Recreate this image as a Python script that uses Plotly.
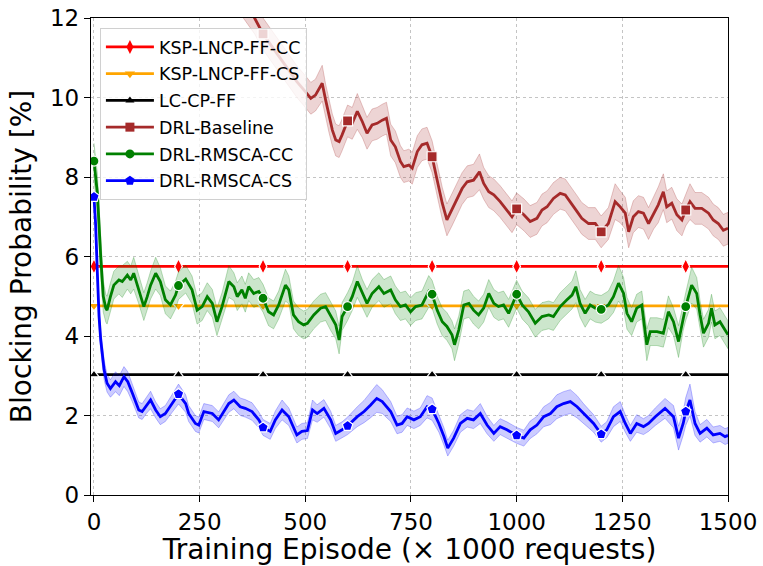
import numpy as np
import plotly.graph_objects as go

# ---------------- data ----------------
mark_x = [0, 200, 400, 600, 800, 1000, 1200, 1400]

ref_x = [0, 200, 400, 600, 800, 1000, 1200, 1400, 1500]
ksp_cc_y = [5.75] * 9
ksp_cs_y = [4.76] * 9
lccp_y = [3.03] * 9

base_x = [300, 340, 380, 400, 420, 440, 460, 480, 500, 513,
          524, 540, 548, 556, 564, 572, 580, 587, 600, 611,
          623, 635, 646, 658, 670, 682, 692, 702, 713, 725,
          733, 745, 753, 765, 776, 788, 800, 812, 824, 835,
          847, 859, 871, 883, 898, 912, 922, 934, 946, 961,
          977, 989, 1000, 1017, 1032, 1048, 1060, 1072, 1087, 1103,
          1115, 1127, 1143, 1154, 1170, 1186, 1200, 1217, 1233, 1245,
          1257, 1265, 1276, 1288, 1300, 1312, 1324, 1335, 1347, 1355,
          1367, 1379, 1391, 1400, 1410, 1422, 1438, 1454, 1465, 1477,
          1489, 1500]
base_y = [13.3, 12.6, 12.0, 11.6, 11.3, 11.0, 10.7, 10.4, 10.15, 9.98,
          10.06, 10.36, 9.94, 9.52, 9.18, 8.93, 8.89, 9.06, 9.41, 9.35,
          9.65, 9.39, 9.1, 9.31, 9.35, 9.43, 9.48, 8.93, 8.76, 8.39,
          8.26, 8.3, 8.22, 8.64, 8.81, 8.85, 8.51, 7.92, 7.34, 6.92,
          7.17, 7.42, 7.71, 7.88, 7.92, 8.13, 7.84, 7.63, 7.55, 7.38,
          7.17, 7.0, 7.2, 7.05, 6.88, 6.96, 7.17, 7.25, 7.46, 7.59,
          7.55, 7.38, 7.13, 6.96, 6.83, 6.83, 6.62, 6.83, 7.38, 7.25,
          7.09, 6.62, 7.0, 7.13, 7.09, 6.83, 7.09, 7.3, 7.63, 7.25,
          7.34, 7.05, 6.92, 7.17, 7.38, 7.21, 7.21, 7.09, 6.92, 6.83,
          6.66, 6.71]
base_sd = [0.4, 0.4, 0.4, 0.4, 0.4, 0.4, 0.4, 0.4, 0.4, 0.4,
           0.4, 0.45, 0.4, 0.4, 0.4, 0.4, 0.4, 0.4, 0.4, 0.4,
           0.45, 0.4, 0.4, 0.4, 0.4, 0.4, 0.4, 0.4, 0.4, 0.4,
           0.4, 0.4, 0.4, 0.4, 0.4, 0.4, 0.4, 0.4, 0.4, 0.4,
           0.4, 0.4, 0.4, 0.4, 0.4, 0.45, 0.4, 0.4, 0.4, 0.4,
           0.4, 0.4, 0.4, 0.4, 0.4, 0.4, 0.4, 0.4, 0.4, 0.4,
           0.4, 0.4, 0.4, 0.4, 0.4, 0.4, 0.4, 0.4, 0.45, 0.4,
           0.4, 0.4, 0.4, 0.4, 0.4, 0.4, 0.4, 0.45, 0.45, 0.4,
           0.4, 0.4, 0.4, 0.4, 0.45, 0.4, 0.4, 0.4, 0.4, 0.4,
           0.4, 0.4]

cc_x = [0, 8, 16, 22, 28, 31, 39, 47, 59, 67,
        79, 87, 94, 106, 118, 126, 134, 146, 157, 169,
        181, 193, 200, 217, 232, 244, 256, 268, 280, 291,
        303, 319, 331, 339, 350, 358, 366, 378, 390, 400,
        413, 425, 437, 453, 461, 472, 484, 496, 505, 520,
        536, 548, 560, 572, 580, 587, 600, 611, 623, 635,
        646, 658, 674, 686, 702, 713, 725, 737, 749, 761,
        776, 792, 800, 812, 824, 835, 847, 853, 863, 875,
        887, 898, 910, 922, 934, 946, 957, 969, 981, 1000,
        1013, 1028, 1044, 1060, 1076, 1087, 1103, 1119, 1131, 1140,
        1150, 1162, 1174, 1186, 1200, 1217, 1229, 1241, 1253, 1261,
        1272, 1284, 1296, 1308, 1316, 1332, 1347, 1359, 1371, 1383,
        1394, 1400, 1414, 1426, 1434, 1442, 1454, 1461, 1469, 1481,
        1493, 1500]
cc_y = [8.4, 7.6, 6.0, 5.0, 4.7, 4.65, 4.99, 5.28, 5.41, 5.37,
        5.53, 5.41, 5.58, 5.16, 4.74, 4.99, 5.28, 5.58, 5.37, 4.91,
        4.78, 5.03, 5.27, 5.43, 5.16, 4.65, 4.74, 4.99, 4.82, 4.36,
        4.74, 5.37, 5.24, 4.99, 5.16, 4.95, 5.24, 5.07, 5.12, 4.95,
        4.61, 4.53, 4.78, 5.28, 5.16, 4.53, 4.36, 4.28, 4.32, 4.53,
        4.7, 4.74, 4.49, 4.28, 3.9, 4.49, 4.74, 4.99, 5.37, 5.07,
        4.82, 5.07, 5.24, 5.07, 5.16, 4.91, 4.74, 4.78, 4.61, 4.74,
        4.78, 5.12, 5.05, 4.65, 4.36, 4.24, 4.03, 3.78, 4.15, 4.78,
        4.82, 4.65, 4.53, 4.7, 5.07, 4.82, 4.74, 4.78, 4.57, 5.05,
        4.78, 4.61, 4.32, 4.49, 4.53, 4.49, 4.74, 4.91, 5.03, 5.24,
        4.82, 4.57, 4.78, 4.7, 4.67, 4.78, 4.99, 5.33, 5.07, 4.57,
        4.36, 4.7, 4.78, 3.78, 4.11, 4.11, 4.07, 4.61, 4.36, 3.86,
        4.49, 4.74, 5.28, 5.07, 4.53, 4.07, 4.32, 4.7, 4.28, 4.36,
        4.15, 4.03]
cc_sd = [0.45, 0.5, 0.5, 0.4, 0.35, 0.35, 0.35, 0.35, 0.35, 0.4,
         0.35, 0.35, 0.4, 0.35, 0.35, 0.35, 0.35, 0.4, 0.35, 0.35,
         0.35, 0.35, 0.35, 0.35, 0.35, 0.35, 0.35, 0.35, 0.35, 0.35,
         0.35, 0.4, 0.35, 0.35, 0.35, 0.35, 0.35, 0.35, 0.35, 0.35,
         0.35, 0.35, 0.35, 0.4, 0.35, 0.35, 0.35, 0.35, 0.35, 0.35,
         0.35, 0.35, 0.35, 0.35, 0.35, 0.35, 0.35, 0.35, 0.4, 0.35,
         0.35, 0.35, 0.35, 0.35, 0.35, 0.35, 0.35, 0.35, 0.35, 0.35,
         0.35, 0.4, 0.35, 0.35, 0.35, 0.35, 0.35, 0.4, 0.35, 0.35,
         0.35, 0.35, 0.35, 0.35, 0.35, 0.35, 0.35, 0.35, 0.35, 0.35,
         0.35, 0.35, 0.35, 0.35, 0.35, 0.35, 0.35, 0.35, 0.35, 0.4,
         0.35, 0.35, 0.35, 0.35, 0.35, 0.35, 0.4, 0.45, 0.4, 0.4,
         0.35, 0.35, 0.35, 0.4, 0.35, 0.35, 0.35, 0.4, 0.35, 0.4,
         0.35, 0.35, 0.45, 0.4, 0.35, 0.35, 0.35, 0.35, 0.35, 0.35,
         0.35, 0.35]

cs_x = [0, 4, 8, 12, 16, 20, 24, 31, 39, 51,
        60, 71, 80, 91, 106, 114, 124, 134, 146, 157,
        169, 185, 200, 217, 224, 240, 248, 260, 280, 295,
        319, 331, 346, 358, 374, 390, 400, 417, 429, 445,
        461, 480, 492, 505, 517, 528, 544, 560, 572, 587,
        600, 623, 639, 654, 669, 682, 702, 717, 729, 741,
        757, 772, 788, 800, 816, 828, 837, 851, 867, 883,
        898, 914, 930, 946, 961, 977, 1000, 1017, 1032, 1048,
        1064, 1080, 1095, 1111, 1127, 1143, 1158, 1182, 1200, 1213,
        1229, 1245, 1257, 1269, 1284, 1300, 1312, 1328, 1351, 1371,
        1383, 1394, 1400, 1410, 1422, 1434, 1450, 1465, 1481, 1493,
        1500]
cs_y = [7.5, 6.8, 5.6, 4.5, 3.9, 3.5, 3.15, 2.81, 2.68, 2.85,
        2.75, 2.98, 2.85, 2.56, 2.14, 2.1, 2.25, 2.39, 2.14, 1.97,
        2.05, 2.3, 2.54, 2.3, 2.05, 1.8, 1.76, 2.1, 2.05, 1.89,
        2.3, 2.39, 2.22, 2.18, 2.1, 1.89, 1.7, 1.6, 1.89, 2.14,
        1.97, 1.51, 1.6, 1.62, 2.14, 2.05, 2.18, 1.89, 1.55, 1.64,
        1.74, 1.97, 2.1, 2.26, 2.43, 2.35, 2.1, 1.76, 1.8, 1.97,
        1.89, 1.97, 2.22, 2.16, 1.8, 1.47, 1.18, 1.43, 1.8, 1.93,
        1.89, 2.05, 1.76, 1.55, 1.72, 1.64, 1.5, 1.43, 1.64, 1.76,
        1.97, 2.05, 2.22, 2.3, 2.35, 2.22, 2.05, 1.8, 1.53, 1.64,
        1.97, 2.1, 1.8, 1.55, 1.8, 1.72, 1.8, 1.97, 2.18, 1.97,
        1.43, 1.8, 2.1, 2.39, 1.8, 1.55, 1.68, 1.51, 1.55, 1.47,
        1.5]
cs_sd = [0.15, 0.2, 0.25, 0.25, 0.25, 0.25, 0.25, 0.22, 0.22, 0.25,
         0.25, 0.25, 0.25, 0.22, 0.2, 0.2, 0.2, 0.22, 0.2, 0.2,
         0.2, 0.22, 0.25, 0.22, 0.2, 0.2, 0.2, 0.2, 0.2, 0.2,
         0.22, 0.22, 0.22, 0.22, 0.22, 0.2, 0.2, 0.2, 0.22, 0.25,
         0.22, 0.2, 0.2, 0.2, 0.25, 0.22, 0.22, 0.22, 0.2, 0.2,
         0.22, 0.25, 0.28, 0.32, 0.35, 0.3, 0.25, 0.22, 0.22, 0.22,
         0.22, 0.22, 0.28, 0.28, 0.22, 0.22, 0.2, 0.2, 0.22, 0.22,
         0.22, 0.25, 0.22, 0.2, 0.2, 0.2, 0.2, 0.2, 0.22, 0.22,
         0.25, 0.28, 0.3, 0.3, 0.3, 0.28, 0.25, 0.22, 0.2, 0.2,
         0.25, 0.25, 0.22, 0.2, 0.22, 0.2, 0.2, 0.22, 0.25, 0.28,
         0.3, 0.3, 0.35, 0.4, 0.3, 0.22, 0.22, 0.2, 0.2, 0.2,
         0.2]

x_ticks = [0, 250, 500, 750, 1000, 1250, 1500]
y_ticks = [0, 2, 4, 6, 8, 10, 12]

# ---------------- styles ----------------
FONT = "DejaVu Sans"
names = ["KSP-LNCP-FF-CC", "KSP-LNCP-FF-CS", "LC-CP-FF",
         "DRL-Baseline", "DRL-RMSCA-CC", "DRL-RMSCA-CS"]
colors = ["#ff0000", "#ffa500", "#000000", "#a52a2a", "#008000", "#0000ff"]
rgb = [(255, 0, 0), (255, 165, 0), (0, 0, 0), (165, 42, 42), (0, 128, 0), (0, 0, 255)]
symbols = ["diamond-tall", "triangle-down", "triangle-up", "square", "circle", "pentagon"]
msizes = [11, 10, 9, 10, 10, 11]
LW = 2.8

fig = go.Figure()


def add_band(x, y, sd, idx):
    x = np.asarray(x, float)
    y = np.asarray(y, float)
    sd = np.asarray(sd, float)
    r, g, b = rgb[idx]
    fig.add_trace(go.Scatter(
        x=np.concatenate([x, x[::-1]]),
        y=np.concatenate([y + sd, (y - sd)[::-1]]),
        fill="toself", mode="lines",
        fillcolor=f"rgba({r},{g},{b},0.2)",
        line=dict(color=f"rgba({r},{g},{b},0.25)", width=1),
        hoverinfo="skip", showlegend=False))


def add_line(x, y, idx):
    fig.add_trace(go.Scatter(
        x=x, y=y, mode="lines",
        line=dict(color=colors[idx], width=LW),
        showlegend=False))
    mx = [xx for xx in x if xx in mark_x]
    my = [yy for xx, yy in zip(x, y) if xx in mark_x]
    fig.add_trace(go.Scatter(
        x=mx, y=my, mode="markers",
        marker=dict(symbol=symbols[idx], size=msizes[idx], color=colors[idx],
                    line=dict(color="white", width=1.2)),
        showlegend=False))


add_line(ref_x, ksp_cc_y, 0)
add_line(ref_x, ksp_cs_y, 1)
add_line(ref_x, lccp_y, 2)
add_band(base_x, base_y, base_sd, 3)
add_line(base_x, base_y, 3)
add_band(cc_x, cc_y, cc_sd, 4)
add_line(cc_x, cc_y, 4)
add_band(cs_x, cs_y, cs_sd, 5)
add_line(cs_x, cs_y, 5)

# legend proxies (one group each so a small gap can be set between entries)
for i, nm in enumerate(names):
    fig.add_trace(go.Scatter(
        x=[None], y=[None], mode="lines+markers", name=nm,
        legendgroup=f"g{i}",
        line=dict(color=colors[i], width=LW),
        marker=dict(symbol=symbols[i], size=msizes[i] - 1, color=colors[i]),
        showlegend=True))

axis_common = dict(
    showline=True, linecolor="black", linewidth=1.3, mirror=True,
    ticks="outside", ticklen=6, tickwidth=1.3, tickcolor="black",
    tickfont=dict(family=FONT, size=23, color="black"),
    showgrid=True, gridcolor="#c4c4c4", gridwidth=1, griddash="dot",
    zeroline=False, automargin=False,
)

fig.update_xaxes(range=[-7, 1500], tickvals=x_ticks,
                 title=dict(text="Training Episode (× 1000 requests)",
                            font=dict(family=FONT, size=28, color="black"),
                            standoff=11),
                 **axis_common)
fig.update_yaxes(range=[0, 12], tickvals=y_ticks,
                 title=dict(text="Blocking Probability [%]",
                            font=dict(family=FONT, size=28, color="black"),
                            standoff=10),
                 **axis_common)

fig.update_layout(
    width=763, height=566,
    margin=dict(l=91, r=35, t=18, b=71, autoexpand=False),
    plot_bgcolor="white", paper_bgcolor="white",
    font=dict(family=FONT, color="black"),
    legend=dict(x=0.014, y=0.979, xanchor="left", yanchor="top",
                bgcolor="rgba(255,255,255,0.8)", bordercolor="#d0d0d0",
                borderwidth=1, font=dict(family=FONT, size=17.5, color="black"),
                traceorder="grouped", tracegroupgap=1, itemwidth=48),
)

fig.write_html("out.html")
